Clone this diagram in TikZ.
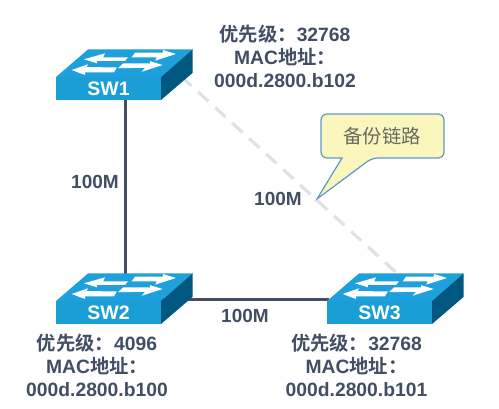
\documentclass[tikz,border=0pt]{standalone}
\usepackage{fontspec}
\setmainfont{Liberation Sans}
\newfontfamily\cjk[BoldFont={Noto Sans CJK SC Bold}]{Noto Sans CJK SC}
\usetikzlibrary{calc}
\pgfdeclarelayer{links}
\pgfsetlayers{links,main}
\definecolor{swfront}{RGB}{25,158,214}
\definecolor{swtop}{RGB}{30,160,220}
\definecolor{swside}{RGB}{0,88,128}
\definecolor{txt}{RGB}{66,78,100}
\definecolor{linkc}{RGB}{70,78,100}
\definecolor{backupc}{RGB}{222,226,230}
\definecolor{calloutfill}{RGB}{250,247,190}
\definecolor{calloutline}{RGB}{95,150,200}
\definecolor{callouttxt}{RGB}{105,105,95}
\newcommand{\swdraw}[3]{%
  % #1 name, #2 left x, #3 front top y
  \fill[swtop] (#2,#3) -- (#2+32,#3-27.5) -- (#2+136.5,#3-27.5) -- (#2+105,#3) -- cycle;
  \fill[swside] (#2+105,#3) -- (#2+136.5,#3-27.5) -- (#2+136.5,#3-4) -- (#2+105,#3+23) -- cycle;
  \begin{scope}[shift={(#2,#3)}]
    \fill[white] (15.7,-7) -- (32,-12.7) -- (30.7,-10) -- (60.7,-9.5) -- (58,-4.5) -- (29,-4.5) -- (29,-2) -- cycle;
    \fill[white] (28,-17.7) -- (49,-23.7) -- (47.3,-19.7) -- (72,-19.7) -- (69,-16) -- (40.7,-16) -- (41,-13.7) -- cycle;
    \fill[white] (120,-23) -- (107,-27) -- (106.7,-24.3) -- (79,-24.3) -- (75.7,-19.7) -- (101,-19.7) -- (99,-16.3) -- cycle;
    \fill[white] (106.7,-12) -- (94,-15.8) -- (94,-13.5) -- (67.3,-13.7) -- (62,-8.9) -- (89,-9.1) -- (85.7,-5.3) -- cycle;
  \end{scope}
  \node[swbox] (#1) at (#2+52.5,#3+11.5) {};
}
\tikzset{
  swbox/.style={minimum width=105pt,minimum height=23pt,inner sep=0pt,fill=swfront,draw=none},
  swlabel/.style={text=white,font=\fontsize{19.5}{22}\selectfont\bfseries,inner sep=0pt},
  info/.style={text=txt,font=\fontsize{19.3}{23}\selectfont\bfseries,align=center,inner sep=0pt},
  speed/.style={text=txt,font=\fontsize{19}{22}\selectfont\bfseries,inner sep=0pt},
  mainlink/.style={draw=linkc,line width=3pt},
  backup/.style={draw=backupc,line width=3.2pt,dash pattern=on 14pt off 9pt},
}
\begin{document}
\begin{tikzpicture}[x=1pt,y=-1pt]
\useasboundingbox (0,0) rectangle (499,409);
\swdraw{sw1}{56}{77}
\swdraw{sw2}{56}{301}
\swdraw{sw3}{327}{301}
\node[swlabel] at (sw1) {SW1};
\node[swlabel] at (sw2) {SW2};
\node[swlabel] at (sw3) {SW3};
\begin{pgfonlayer}{links}
\draw[backup] ($(sw1.east)+(20,-12)$) -- ($(sw3.north)+(17,-28)$);
\draw[mainlink] ($(sw1.south)+(17,-2)$) -- ($(sw2.north)+(17,-20)$);
\draw[mainlink] ($(sw2.east)+(0,-13)$) -- ($(sw3.west)+(2,-13)$);
\end{pgfonlayer}
\node[speed] (l1) at (95,182) {100M};
\node[speed] (l2) at (278,199) {100M};
\node[speed] (l3) at (245,316) {100M};
\draw[calloutline,fill=calloutfill,line width=1.2pt,rounded corners=6pt]
  (321,114) -- (444,114) -- (444,158) -- (372,158) [sharp corners] -- (317,199) -- (342,158) [rounded corners=6pt] -- (321,158) -- cycle;
\node[text=callouttxt,inner sep=0pt,font=\cjk\fontsize{19.3}{22}\selectfont] (c) at (382,136) {备份链路};
\node[info] (i1) at (285,56) {{\cjk 优先级：}32768\\MAC{\cjk 地址：}\\000d.2800.b102};
\node[info] (i2) at (97,365) {{\cjk 优先级：}4096\\MAC{\cjk 地址：}\\000d.2800.b100};
\node[info] (i3) at (356.5,365) {{\cjk 优先级：}32768\\MAC{\cjk 地址：}\\000d.2800.b101};
\end{tikzpicture}
\end{document}
